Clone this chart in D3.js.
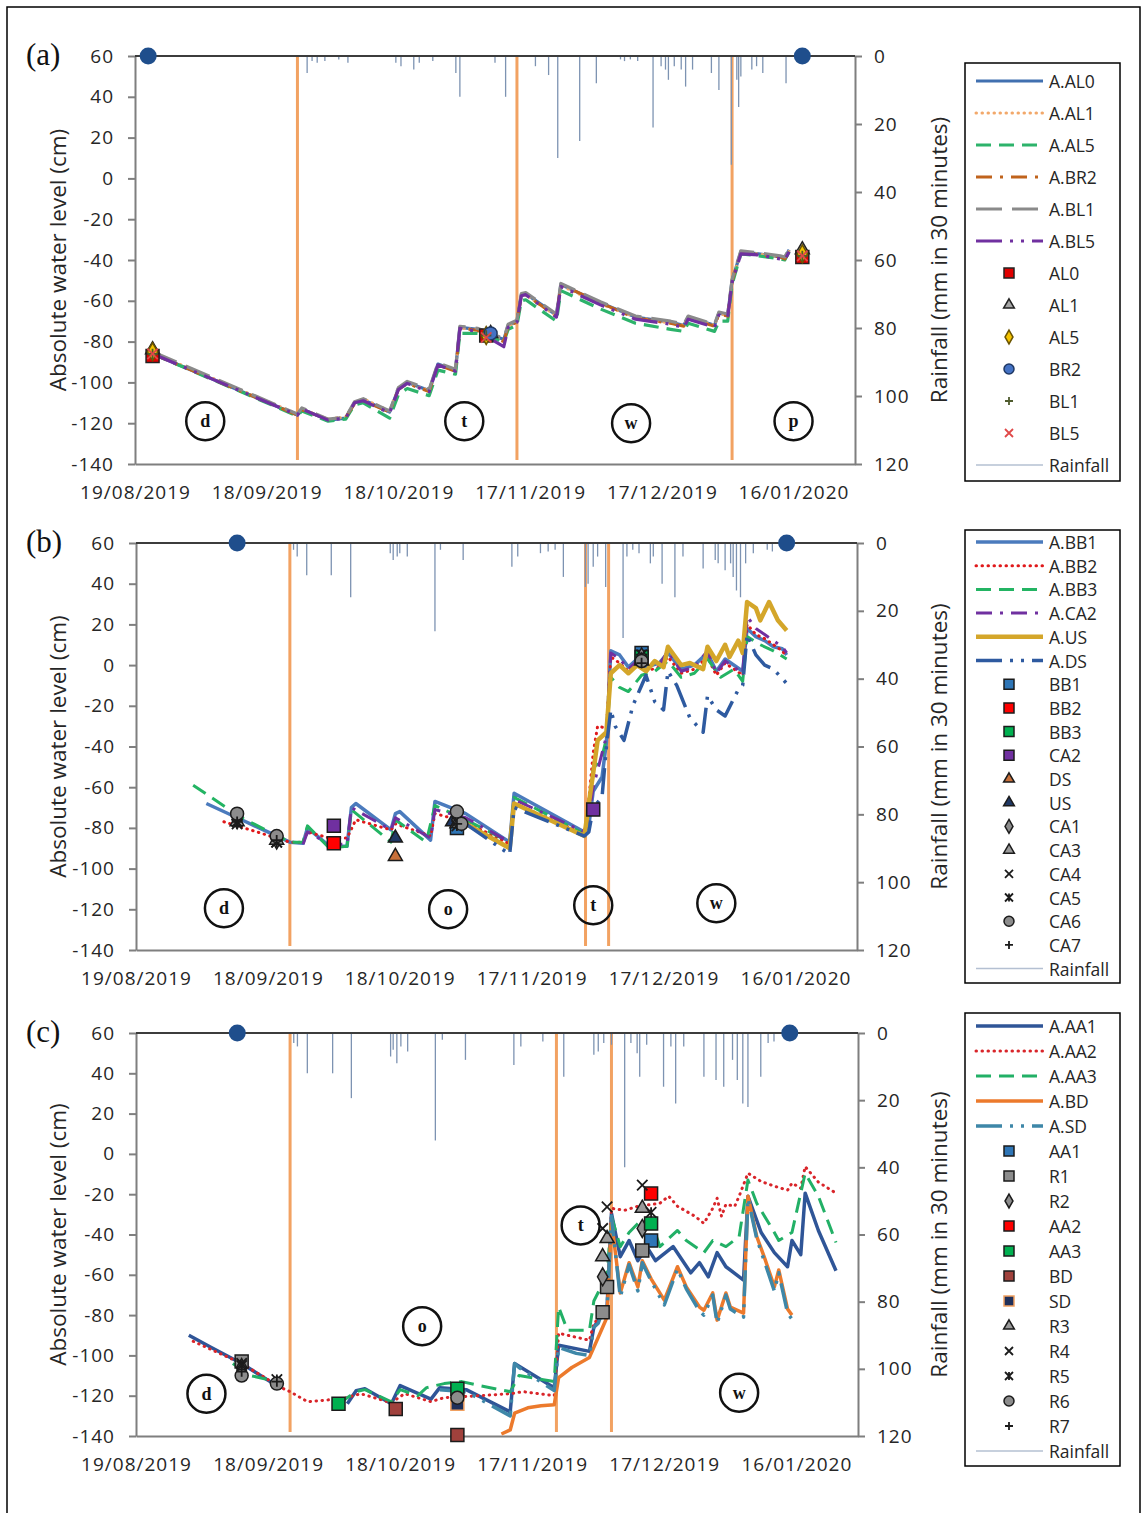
<!DOCTYPE html>
<html>
<head>
<meta charset="utf-8">
<script src="https://cdn.jsdelivr.net/npm/d3@7"></script>
<style>
  body { margin: 0; background: #fff; }
  svg { display: block; }
</style>
</head>
<body>
<svg id="fig" width="1143" height="1513"></svg>
<script>
// ---------- shared axes ----------
const dateRange = ["2019-08-19", "2020-01-30"];
const dateTicks = ["2019-08-19", "2019-09-18", "2019-10-18", "2019-11-17", "2019-12-17", "2020-01-16"];
const levelTicks = [-140, -120, -100, -80, -60, -40, -20, 0, 20, 40, 60];
const rainTicks = [0, 20, 40, 60, 80, 100, 120];

// ---------- panel (a) ----------
const levelAL0 = [["2019-08-23",-86],["2019-09-25",-116],["2019-09-26",-113],["2019-10-02",-118.5],["2019-10-06",-117.5],["2019-10-08",-110],["2019-10-10",-108.5],["2019-10-16",-114.5],["2019-10-18",-103],["2019-10-20",-100],["2019-10-25",-104],["2019-10-27",-91],["2019-10-31",-94],["2019-11-01",-73],["2019-11-05",-74],["2019-11-11",-79],["2019-11-12",-72],["2019-11-14",-70],["2019-11-15",-57],["2019-11-16",-56.5],["2019-11-23",-67],["2019-11-24",-52],["2019-12-03",-61],["2019-12-11",-68],["2019-12-19",-70.5],["2019-12-22",-72],["2019-12-23",-68],["2019-12-29",-72],["2019-12-30",-66],["2020-01-01",-67],["2020-01-02",-50],["2020-01-04",-36],["2020-01-08",-37],["2020-01-13",-38.5],["2020-01-14",-39],["2020-01-15",-35]];
const levelAL1 = [["2019-08-23",-85.5],["2019-09-25",-115.5],["2019-09-26",-113],["2019-10-02",-118],["2019-10-06",-117],["2019-10-08",-110],["2019-10-10",-108],["2019-10-16",-114],["2019-10-18",-103],["2019-10-20",-100.5],["2019-10-25",-104],["2019-10-27",-91.5],["2019-10-31",-94],["2019-11-01",-73.5],["2019-11-05",-74],["2019-11-11",-79.5],["2019-11-12",-72.5],["2019-11-14",-70],["2019-11-15",-57.5],["2019-11-16",-57],["2019-11-23",-67.5],["2019-11-24",-52.5],["2019-12-03",-61.5],["2019-12-11",-68],["2019-12-19",-71],["2019-12-22",-72],["2019-12-23",-68.5],["2019-12-29",-72],["2019-12-30",-66.5],["2020-01-01",-67],["2020-01-02",-50],["2020-01-04",-36.5],["2020-01-08",-37],["2020-01-13",-38.5],["2020-01-14",-39],["2020-01-15",-35.5]];
const levelAL5 = [["2019-08-23",-86],["2019-09-25",-116.5],["2019-09-26",-114],["2019-10-02",-119],["2019-10-06",-118],["2019-10-08",-111],["2019-10-10",-110],["2019-10-16",-117.5],["2019-10-18",-106],["2019-10-20",-103],["2019-10-25",-106.5],["2019-10-27",-94],["2019-10-31",-96],["2019-11-01",-76],["2019-11-05",-76],["2019-11-11",-80],["2019-11-12",-74],["2019-11-14",-72],["2019-11-15",-60],["2019-11-16",-59.5],["2019-11-23",-70],["2019-11-24",-55],["2019-12-03",-64],["2019-12-11",-71],["2019-12-19",-74],["2019-12-22",-75],["2019-12-23",-71],["2019-12-29",-75],["2019-12-30",-70],["2020-01-01",-70],["2020-01-02",-52],["2020-01-04",-37],["2020-01-08",-38],["2020-01-13",-39.5],["2020-01-14",-40],["2020-01-15",-36]];
const levelBR2 = [["2019-08-23",-86],["2019-09-25",-116],["2019-09-26",-113.5],["2019-10-02",-118],["2019-10-06",-117],["2019-10-08",-110.5],["2019-10-10",-109],["2019-10-16",-114.5],["2019-10-18",-103.5],["2019-10-20",-100.5],["2019-10-25",-104.5],["2019-10-27",-91.5],["2019-10-31",-94.5],["2019-11-01",-73.5],["2019-11-05",-74.5],["2019-11-11",-80],["2019-11-12",-72.5],["2019-11-14",-70.5],["2019-11-15",-57.5],["2019-11-16",-57],["2019-11-23",-67.5],["2019-11-24",-52],["2019-12-03",-61],["2019-12-11",-68.5],["2019-12-19",-71],["2019-12-22",-72.5],["2019-12-23",-68.5],["2019-12-29",-72.5],["2019-12-30",-66.5],["2020-01-01",-67.5],["2020-01-02",-50.5],["2020-01-04",-36],["2020-01-08",-37.5],["2020-01-13",-38.5],["2020-01-14",-39.5],["2020-01-15",-35.5]];
const levelBL1 = [["2019-08-23",-85],["2019-09-25",-115.5],["2019-09-26",-112.5],["2019-10-02",-118],["2019-10-06",-117],["2019-10-08",-109.5],["2019-10-10",-108],["2019-10-16",-114],["2019-10-18",-102.5],["2019-10-20",-99.5],["2019-10-25",-103.5],["2019-10-27",-90.5],["2019-10-31",-93.5],["2019-11-01",-72.5],["2019-11-05",-73.5],["2019-11-11",-78.5],["2019-11-12",-71.5],["2019-11-14",-69.5],["2019-11-15",-56.5],["2019-11-16",-56],["2019-11-23",-66.5],["2019-11-24",-51.5],["2019-12-03",-60.5],["2019-12-11",-67.5],["2019-12-19",-70],["2019-12-22",-71.5],["2019-12-23",-67.5],["2019-12-29",-71.5],["2019-12-30",-65.5],["2020-01-01",-66.5],["2020-01-02",-49.5],["2020-01-04",-35.5],["2020-01-08",-36.5],["2020-01-13",-38],["2020-01-14",-38.5],["2020-01-15",-34.5]];
const levelBL5 = [["2019-08-23",-86],["2019-09-25",-116],["2019-09-26",-113],["2019-10-02",-118.5],["2019-10-06",-117.5],["2019-10-08",-110],["2019-10-10",-109],["2019-10-16",-115],["2019-10-18",-103.5],["2019-10-20",-100.5],["2019-10-25",-104.5],["2019-10-27",-91.5],["2019-10-31",-94.5],["2019-11-01",-73.5],["2019-11-05",-75],["2019-11-11",-82.5],["2019-11-12",-73],["2019-11-14",-70.5],["2019-11-15",-57.5],["2019-11-16",-57],["2019-11-23",-68],["2019-11-24",-53],["2019-12-03",-62],["2019-12-11",-69],["2019-12-19",-71.5],["2019-12-22",-73],["2019-12-23",-69],["2019-12-29",-73],["2019-12-30",-67],["2020-01-01",-68],["2020-01-02",-51],["2020-01-04",-37],["2020-01-08",-37.5],["2020-01-13",-39.5],["2020-01-14",-40],["2020-01-15",-36]];

const obsAL0 = [["2019-08-23",-87],["2019-11-07",-77],["2020-01-18",-38.5]];
const obsAL1 = [["2019-08-23",-84],["2019-11-08",-76],["2020-01-18",-35]];
const obsAL5 = [["2019-08-23",-85],["2019-11-07",-77],["2020-01-18",-37]];
const obsBR2 = [["2019-11-08",-76]];
const obsBL1 = [["2019-08-23",-86],["2019-11-07",-77],["2020-01-18",-38]];
const obsBL5 = [["2019-08-23",-86],["2019-11-07",-78],["2020-01-18",-38]];

const rainA = [["2019-09-27 05:00",5],["2019-09-28 08:00",1.5],["2019-09-29 12:00",2],["2019-10-01 06:00",1.5],["2019-10-04 10:00",1],["2019-10-06 12:00",2],["2019-10-17 10:00",2],["2019-10-18 14:00",3],["2019-10-21 12:00",4],["2019-10-22 18:00",2],["2019-10-25 20:00",1.5],["2019-10-31 02:00",5],["2019-11-01 00:00",12],["2019-11-09 00:00",2],["2019-11-11 10:00",12],["2019-11-18 05:00",3],["2019-11-21 05:00",5.6],["2019-11-23 07:00",30],["2019-11-28 07:00",25],["2019-12-02 02:00",8],["2019-12-07 14:00",1],["2019-12-08 12:00",1.5],["2019-12-09 20:00",1],["2019-12-11 12:00",1.5],["2019-12-15 00:00",21],["2019-12-16 20:00",3],["2019-12-17 20:00",4],["2019-12-18 12:00",7],["2019-12-19 20:00",3],["2019-12-21 10:00",4],["2019-12-22 10:00",9],["2019-12-24 00:00",4],["2019-12-28 07:00",5],["2019-12-30 00:00",10],["2020-01-01 20:00",32],["2020-01-03 02:00",7],["2020-01-03 12:00",15],["2020-01-04 00:00",6],["2020-01-06 12:00",4],["2020-01-07 14:00",3],["2020-01-09 00:00",5],["2020-01-14 07:00",8]];
const shiftsA = ["2019-09-25", "2019-11-14", "2020-01-02"];
const visitsA = ["2019-08-22", "2020-01-18"];
const phasesA = [["d","2019-09-04",-119],["t","2019-11-02",-119],["w","2019-12-10",-120],["p","2020-01-16",-119]];

// ---------- panel (b) ----------
const levelBB1 = [["2019-09-04",-68],["2019-09-12",-76],["2019-09-23",-87],["2019-09-26",-87.5],["2019-09-27",-80],["2019-10-02",-89],["2019-10-06",-89],["2019-10-07",-70],["2019-10-08",-68],["2019-10-16",-81],["2019-10-17",-73],["2019-10-18",-72],["2019-10-25",-86],["2019-10-26",-67],["2019-11-02",-73],["2019-11-12",-87],["2019-11-13",-63],["2019-11-29",-82],["2019-11-30",-79],["2019-12-01",-62],["2019-12-03",-55],["2019-12-04",-38],["2019-12-05",7],["2019-12-07",5],["2019-12-09",-1],["2019-12-11",3],["2019-12-13",-1],["2019-12-16",1],["2019-12-18",6],["2019-12-21",-2],["2019-12-24",0],["2019-12-27",6],["2019-12-29",-3],["2019-12-31",3],["2020-01-04",-3],["2020-01-05",18],["2020-01-07",14],["2020-01-09",12],["2020-01-11",9],["2020-01-13",8],["2020-01-14",5]];
const levelBB2 = [["2019-09-08",-77],["2019-09-23",-87],["2019-09-26",-87],["2019-09-27",-82],["2019-10-02",-85],["2019-10-06",-85],["2019-10-08",-76],["2019-10-16",-81],["2019-10-17",-78],["2019-10-25",-84],["2019-10-26",-73],["2019-11-02",-77],["2019-11-12",-88],["2019-11-13",-68],["2019-11-29",-83],["2019-11-30",-66],["2019-12-01",-43],["2019-12-02",-30],["2019-12-04",-31],["2019-12-05",4],["2019-12-07",1],["2019-12-09",-3],["2019-12-11",2],["2019-12-13",-3],["2019-12-16",-1],["2019-12-18",4],["2019-12-21",-4],["2019-12-24",-2],["2019-12-27",4],["2019-12-29",-5],["2019-12-31",1],["2020-01-04",-5],["2020-01-05",20],["2020-01-07",15],["2020-01-09",13],["2020-01-11",10],["2020-01-13",7],["2020-01-14",4]];
const levelBB3 = [["2019-09-01",-59],["2019-09-12",-75],["2019-09-23",-87],["2019-09-26",-87],["2019-09-27",-79],["2019-10-02",-90],["2019-10-06",-89],["2019-10-07",-71],["2019-10-16",-87],["2019-10-17",-76],["2019-10-24",-87],["2019-10-26",-69],["2019-11-02",-76],["2019-11-12",-87],["2019-11-13",-65],["2019-11-29",-83],["2019-11-30",-72],["2019-12-01",-51],["2019-12-03",-45],["2019-12-04",-36],["2019-12-05",-6],["2019-12-07",-11],["2019-12-09",-13],["2019-12-12",-5],["2019-12-15",-3],["2019-12-18",2],["2019-12-21",-6],["2019-12-24",-4],["2019-12-27",3],["2019-12-30",-6],["2020-01-02",-2],["2020-01-04",-8],["2020-01-05",14],["2020-01-08",10],["2020-01-11",7],["2020-01-14",3]];
const levelCA2 = [["2019-09-26",-88],["2019-09-27",-82],["2019-10-02",-88],["2019-10-06",-88],["2019-10-07",-70],["2019-10-16",-81],["2019-10-17",-75],["2019-10-25",-85],["2019-10-26",-71],["2019-11-02",-75],["2019-11-12",-87],["2019-11-13",-66],["2019-11-29",-82],["2019-11-30",-74],["2019-12-01",-60],["2019-12-04",-35],["2019-12-05",6],["2019-12-07",3],["2019-12-09",-2],["2019-12-11",2],["2019-12-13",-2],["2019-12-16",0],["2019-12-18",7],["2019-12-21",-3],["2019-12-24",-1],["2019-12-27",7],["2019-12-29",-4],["2019-12-31",2],["2020-01-04",-4],["2020-01-05",24],["2020-01-07",18],["2020-01-09",15],["2020-01-11",12],["2020-01-13",9],["2020-01-14",6]];
const levelUS = [["2019-10-30",-80],["2019-11-02",-78],["2019-11-12",-90],["2019-11-13",-68],["2019-11-29",-84],["2019-11-30",-68],["2019-12-01",-53],["2019-12-02",-37],["2019-12-04",-33],["2019-12-05",-4],["2019-12-07",0],["2019-12-09",-4],["2019-12-11",0],["2019-12-13",-3],["2019-12-15",2],["2019-12-17",-1],["2019-12-18",9],["2019-12-21",0],["2019-12-23",1],["2019-12-26",-2],["2019-12-27",9],["2019-12-29",2],["2019-12-31",10],["2020-01-01",4],["2020-01-03",12],["2020-01-04",6],["2020-01-05",31],["2020-01-07",28],["2020-01-08",22],["2020-01-10",31],["2020-01-12",22],["2020-01-14",17]];
const levelDS = [["2019-11-02",-78],["2019-11-12",-93],["2019-11-13",-70],["2019-11-29",-84],["2019-11-30",-82],["2019-12-01",-70],["2019-12-03",-65],["2019-12-04",-40],["2019-12-05",-22],["2019-12-06",-30],["2019-12-08",-37],["2019-12-10",-20],["2019-12-12",-10],["2019-12-13",-5],["2019-12-15",-18],["2019-12-17",-22],["2019-12-18",-3],["2019-12-20",-10],["2019-12-23",-26],["2019-12-26",-33],["2019-12-27",-15],["2019-12-29",-22],["2019-12-31",-25],["2020-01-03",-12],["2020-01-04",-10],["2020-01-05",15],["2020-01-07",5],["2020-01-09",0],["2020-01-11",-2],["2020-01-14",-9]];

const obsBB1 = [["2019-10-31",-80],["2019-12-12",6]];
const obsBB2 = [["2019-10-03",-87.5]];
const obsBB3 = [["2019-12-12",4]];
const obsCA2 = [["2019-10-03",-79],["2019-12-01",-71]];
const obsDS = [["2019-10-17",-94]];
const obsUS = [["2019-10-17",-85],["2019-10-30",-77]];
const obsCA1 = [["2019-09-11",-76],["2019-09-20",-86],["2019-10-31",-76],["2019-12-12",4]];
const obsCA3 = [["2019-09-11",-77],["2019-09-20",-86],["2019-10-31",-78],["2019-12-12",2]];
const obsCA4 = [["2019-09-11",-77],["2019-09-20",-87],["2019-10-31",-77],["2019-12-12",5]];
const obsCA5 = [["2019-09-11",-78],["2019-09-20",-87],["2019-10-31",-79],["2019-12-12",3]];
const obsCA6 = [["2019-09-11",-73],["2019-09-20",-84],["2019-10-31",-72],["2019-11-01",-78],["2019-12-12",2]];
const obsCA7 = [["2019-09-11",-77],["2019-09-20",-86],["2019-10-31",-78],["2019-12-12",1]];

const rainB = [["2019-09-23 20:00",2],["2019-09-24 16:00",4],["2019-09-26 20:00",9.5],["2019-10-02 10:00",9.5],["2019-10-06 20:00",16],["2019-10-15 20:00",3],["2019-10-16 12:00",5],["2019-10-17 10:00",4],["2019-10-18 00:00",3],["2019-10-19 17:00",4],["2019-10-26 00:00",26],["2019-10-27 06:00",2],["2019-11-01 10:00",5],["2019-11-12 12:00",7],["2019-11-13 20:00",4],["2019-11-19 00:00",3],["2019-11-20 18:00",2.5],["2019-11-22 08:00",2],["2019-11-24 05:00",10],["2019-11-29 05:00",13],["2019-11-29 20:00",12],["2019-12-01 00:00",7],["2019-12-02 00:00",4],["2019-12-03 20:00",13],["2019-12-07 19:00",28],["2019-12-08 16:00",4],["2019-12-10 00:00",2],["2019-12-11 10:00",3],["2019-12-14 00:00",6],["2019-12-14 16:00",4],["2019-12-16 16:00",12],["2019-12-19 14:00",16],["2019-12-21 10:00",4],["2019-12-26 00:00",7.5],["2019-12-28 18:00",5],["2019-12-29 10:00",6],["2019-12-31 00:00",8],["2020-01-01 06:00",6],["2020-01-01 20:00",10],["2020-01-02 14:00",14],["2020-01-03 12:00",16],["2020-01-04 16:00",6],["2020-01-06 10:00",3],["2020-01-09 14:00",2],["2020-01-10 18:00",2.5]];
const shiftsB = ["2019-09-23", "2019-11-29 06:00", "2019-12-04 12:00"];
const visitsB = ["2019-09-11", "2020-01-14"];
const phasesB = [["d","2019-09-08",-119.5],["o","2019-10-29",-120],["t","2019-12-01",-118],["w","2019-12-29",-117]];

// ---------- panel (c) ----------
const levelAA1 = [["2019-08-31",-90],["2019-09-05",-96],["2019-09-12",-104],["2019-09-21",-116.5],["2019-09-22",null],["2019-10-06",-124],["2019-10-08",-117.5],["2019-10-10",-116.5],["2019-10-16",-124],["2019-10-18",-115],["2019-10-25",-121.7],["2019-10-27",-116],["2019-11-02",-117],["2019-11-12",-128],["2019-11-13",-104],["2019-11-22",-116],["2019-11-23",-95],["2019-11-30",-98],["2019-12-01",-86],["2019-12-04",-76],["2019-12-05",-29.5],["2019-12-07",-51],["2019-12-09",-43],["2019-12-11",-53],["2019-12-13",-46],["2019-12-15",-53],["2019-12-19",-46],["2019-12-23",-59],["2019-12-25",-54],["2019-12-27",-61],["2019-12-29",-49],["2019-12-31",-56],["2020-01-04",-62.6],["2020-01-05",-21],["2020-01-08",-39],["2020-01-11",-49],["2020-01-14",-56],["2020-01-15",-43],["2020-01-17",-50],["2020-01-18",-19.5],["2020-01-21",-38],["2020-01-25",-58]];
const levelAA2 = [["2019-09-01",-93],["2019-09-12",-104],["2019-09-21",-116],["2019-09-23",-118],["2019-09-27",-123],["2019-10-02",-122],["2019-10-05",-121.5],["2019-10-09",-119],["2019-10-16",-123.5],["2019-10-19",-119],["2019-10-25",-123],["2019-10-28",-121],["2019-11-05",-120],["2019-11-12",-119],["2019-11-15",-118],["2019-11-22",-120],["2019-11-23",-89],["2019-11-30",-92.5],["2019-12-01",-84],["2019-12-04",-78],["2019-12-05",-27],["2019-12-08",-28],["2019-12-11",-26],["2019-12-16",-24.5],["2019-12-18",-21],["2019-12-20",-26],["2019-12-24",-31],["2019-12-26",-34.5],["2019-12-28",-27],["2019-12-29",-22],["2019-12-30",-31],["2019-12-31",-25],["2020-01-02",-26],["2020-01-03",-21],["2020-01-05",-9.6],["2020-01-08",-13.7],["2020-01-11",-16],["2020-01-14",-18],["2020-01-15",-14.5],["2020-01-17",-17],["2020-01-18",-6.3],["2020-01-21",-14],["2020-01-25",-19.5]];
const levelAA3 = [["2019-09-10",-104],["2019-09-14",-110],["2019-09-20",-113],["2019-09-21",null],["2019-10-04",-124],["2019-10-08",-118],["2019-10-10",-117],["2019-10-16",-123],["2019-10-18",-117],["2019-10-22",-120],["2019-10-24",-116],["2019-10-28",-114],["2019-11-01",-113],["2019-11-05",-115],["2019-11-12",-118],["2019-11-14",-110],["2019-11-22",-113],["2019-11-23",-76],["2019-11-25",-87.5],["2019-11-30",-87.5],["2019-12-01",-73],["2019-12-04",-60],["2019-12-05",-31],["2019-12-07",-46],["2019-12-09",-39],["2019-12-11",-34.5],["2019-12-14",-33],["2019-12-16",-46],["2019-12-20",-38],["2019-12-22",-43],["2019-12-26",-49],["2019-12-28",-43],["2019-12-31",-46],["2020-01-03",-41],["2020-01-05",-13],["2020-01-07",-24.5],["2020-01-11",-39],["2020-01-12",-43],["2020-01-15",-39],["2020-01-18",-9.6],["2020-01-21",-21],["2020-01-25",-44]];
const levelBD = [["2019-11-10",-139],["2019-11-12",-137],["2019-11-13",-128.7],["2019-11-16",-126],["2019-11-19",-125],["2019-11-22",-124.5],["2019-11-23",-111],["2019-11-26",-106],["2019-11-30",-101],["2019-12-01",-96],["2019-12-03",-86],["2019-12-04",-81],["2019-12-05",-33],["2019-12-07",-69],["2019-12-09",-54],["2019-12-11",-66],["2019-12-12",-53],["2019-12-14",-62],["2019-12-17",-72.6],["2019-12-20",-56],["2019-12-22",-66],["2019-12-25",-76],["2019-12-26",-77.6],["2019-12-28",-69],["2019-12-29",-82.5],["2019-12-31",-69],["2020-01-01",-76],["2020-01-04",-79],["2020-01-05",-21],["2020-01-07",-41],["2020-01-09",-53],["2020-01-11",-66],["2020-01-12",-57.6],["2020-01-14",-77],["2020-01-15",-80]];
const levelSD = [["2019-10-27",-117],["2019-11-02",-118],["2019-11-12",-130],["2019-11-13",-104],["2019-11-14",-106],["2019-11-22",-117.5],["2019-11-23",-96],["2019-11-27",-99],["2019-11-30",-100],["2019-12-01",-86],["2019-12-02",-84],["2019-12-03",-78],["2019-12-04",-77],["2019-12-05",-31],["2019-12-07",-71],["2019-12-09",-55],["2019-12-11",-68],["2019-12-12",-54],["2019-12-14",-63],["2019-12-17",-75],["2019-12-20",-57],["2019-12-22",-67],["2019-12-25",-78],["2019-12-26",-80],["2019-12-28",-70],["2019-12-29",-84],["2019-12-31",-70],["2020-01-01",-77],["2020-01-04",-81],["2020-01-05",-22],["2020-01-07",-42],["2020-01-09",-55],["2020-01-11",-68],["2020-01-12",-59],["2020-01-14",-79],["2020-01-15",-82]];

const obsAA1 = [["2019-12-14",-43]];
const obsR1 = [["2019-09-12",-103],["2019-12-03",-78.6],["2019-12-04",-66],["2019-12-12",-48]];
const obsR2 = [["2019-09-12",-106],["2019-12-03",-61],["2019-12-12",-37]];
const obsAA2 = [["2019-12-14",-19.7]];
const obsAA3 = [["2019-10-04",-124],["2019-10-31",-116.5],["2019-12-14",-34.6]];
const obsBD = [["2019-10-17",-126.6],["2019-10-31",-139.5]];
const obsSD = [["2019-10-31",-124]];
const obsR3 = [["2019-12-03",-51],["2019-12-04",-42],["2019-12-12",-27]];
const obsR4 = [["2019-09-12",-104],["2019-12-03",-37],["2019-12-04",-26.3],["2019-12-12",-15.5]];
const obsR5 = [["2019-09-12",-105],["2019-09-20",-112],["2019-12-14",-29]];
const obsR6 = [["2019-09-12",-110],["2019-09-20",-114],["2019-10-31",-121]];
const obsR7 = [["2019-09-12",-108],["2019-09-20",-113]];

const rainC = [["2019-09-23 20:00",3],["2019-09-24 16:00",4],["2019-09-26 22:00",12],["2019-10-02 16:00",12],["2019-10-06 22:00",19.4],["2019-10-15 20:00",7],["2019-10-16 10:00",5],["2019-10-17 06:00",9],["2019-10-18 04:00",4],["2019-10-19 17:00",5.5],["2019-10-26 00:00",32],["2019-10-27 14:00",2],["2019-11-01 20:00",8],["2019-11-12 20:00",9.5],["2019-11-14 10:00",4],["2019-11-19 10:00",2.5],["2019-11-24 04:00",13],["2019-12-01 00:00",6.5],["2019-12-02 00:00",5.5],["2019-12-03 06:00",3],["2019-12-05 00:00",3.5],["2019-12-08 00:00",40],["2019-12-09 10:00",3],["2019-12-10 20:00",6],["2019-12-11 10:00",13],["2019-12-13 00:00",3.5],["2019-12-16 20:00",16],["2019-12-18 12:00",4],["2019-12-19 14:00",21],["2019-12-21 10:00",4],["2019-12-26 00:00",13],["2019-12-28 18:00",14],["2019-12-30 12:00",16],["2020-01-01 12:00",8],["2020-01-02 14:00",14],["2020-01-03 20:00",21],["2020-01-05 00:00",22],["2020-01-07 22:00",13],["2020-01-09 14:00",3],["2020-01-10 22:00",2.5]];
const shiftsC = ["2019-09-23", "2019-11-22 12:00", "2019-12-05"];
const visitsC = ["2019-09-11", "2020-01-14 12:00"];
const phasesC = [["d","2019-09-04",-119],["o","2019-10-23",-85.5],["t","2019-11-28",-35.5],["w","2020-01-03",-118.5]];

// ---------- drawing ----------
const parseStamp = d3.utcParse("%Y-%m-%d %H:%M");
const parseDay = d3.utcParse("%Y-%m-%d");
const toDate = s => parseStamp(s) || parseDay(s);

const SANS = "'Open Sans','Noto Sans',sans-serif";
const SERIF = "'Liberation Serif','DejaVu Serif',serif";
const DASH = { solid: null, dotted: "0.5 5.5", dashed: "15 8", dashDot: "16 8 3 8", longDash: "26 10", dashDotDot: "26 8 3 8 3 8" };

const svg = d3.select("#fig");
svg.append("rect").attr("x", 7).attr("y", 7).attr("width", 1133).attr("height", 1540)
  .attr("fill", "none").attr("stroke", "#000").attr("stroke-width", 1.5);

const panels = [
  {
    key: "a", label: "(a)", frame: { left: 135, right: 855, top: 56, bottom: 464 },
    legend: { top: 63, bottom: 481, first: 81, step: 32 },
    rain: rainA, shifts: shiftsA, visits: visitsA, phases: phasesA,
    series: [
      { name: "A.AL0", data: levelAL0, color: "#4170b0", width: 3.2, dash: "solid" },
      { name: "A.AL1", data: levelAL1, color: "#f2a86a", width: 3, dash: "dotted" },
      { name: "A.AL5", data: levelAL5, color: "#2db36b", width: 3.2, dash: "dashed" },
      { name: "A.BR2", data: levelBR2, color: "#c0631c", width: 3, dash: "dashDot" },
      { name: "A.BL1", data: levelBL1, color: "#8a8a8a", width: 3.2, dash: "longDash" },
      { name: "A.BL5", data: levelBL5, color: "#7030a0", width: 3.2, dash: "dashDotDot" }
    ],
    markers: [
      { name: "AL0", data: obsAL0, shape: "square", fill: "#e00000", stroke: "#222" },
      { name: "AL1", data: obsAL1, shape: "triangle", fill: "#a6a6a6", stroke: "#222" },
      { name: "AL5", data: obsAL5, shape: "diamond", fill: "#f5c400", stroke: "#6b5400" },
      { name: "BR2", data: obsBR2, shape: "circle", fill: "#4472c4", stroke: "#1f3864" },
      { name: "BL1", data: obsBL1, shape: "plus", fill: "none", stroke: "#4f5b2e" },
      { name: "BL5", data: obsBL5, shape: "x", fill: "none", stroke: "#e04848" }
    ]
  },
  {
    key: "b", label: "(b)", frame: { left: 136, right: 857, top: 543, bottom: 950 },
    legend: { top: 530, bottom: 983, first: 542, step: 23.7 },
    rain: rainB, shifts: shiftsB, visits: visitsB, phases: phasesB,
    series: [
      { name: "A.BB1", data: levelBB1, color: "#4b7bbd", width: 3.5, dash: "solid" },
      { name: "A.BB2", data: levelBB2, color: "#e0191b", width: 3, dash: "dotted" },
      { name: "A.BB3", data: levelBB3, color: "#23b463", width: 3, dash: "dashed" },
      { name: "A.CA2", data: levelCA2, color: "#7030a0", width: 3, dash: "dashDot" },
      { name: "A.US", data: levelUS, color: "#d4a62a", width: 4.5, dash: "solid" },
      { name: "A.DS", data: levelDS, color: "#2e5aa0", width: 3.5, dash: "dashDotDot" }
    ],
    markers: [
      { name: "BB1", data: obsBB1, shape: "square", fill: "#2e75b6", stroke: "#1b1b1b" },
      { name: "BB2", data: obsBB2, shape: "square", fill: "#ff0000", stroke: "#1b1b1b" },
      { name: "BB3", data: obsBB3, shape: "square", fill: "#00b050", stroke: "#1b1b1b" },
      { name: "CA2", data: obsCA2, shape: "square", fill: "#7030a0", stroke: "#1b1b1b" },
      { name: "DS", data: obsDS, shape: "triangle", fill: "#c8703a", stroke: "#1b1b1b" },
      { name: "US", data: obsUS, shape: "triangle", fill: "#1f3864", stroke: "#1b1b1b" },
      { name: "CA1", data: obsCA1, shape: "diamond", fill: "#8c8c8c", stroke: "#1b1b1b" },
      { name: "CA3", data: obsCA3, shape: "triangle", fill: "#9a9a9a", stroke: "#1b1b1b" },
      { name: "CA4", data: obsCA4, shape: "x", fill: "none", stroke: "#1b1b1b" },
      { name: "CA5", data: obsCA5, shape: "star", fill: "none", stroke: "#1b1b1b" },
      { name: "CA6", data: obsCA6, shape: "circle", fill: "#8c8c8c", stroke: "#1b1b1b" },
      { name: "CA7", data: obsCA7, shape: "plus", fill: "none", stroke: "#1b1b1b" }
    ]
  },
  {
    key: "c", label: "(c)", frame: { left: 136, right: 858, top: 1033, bottom: 1436 },
    legend: { top: 1013, bottom: 1466, first: 1026, step: 25 },
    rain: rainC, shifts: shiftsC, visits: visitsC, phases: phasesC,
    series: [
      { name: "A.AA1", data: levelAA1, color: "#2f5597", width: 3.5, dash: "solid" },
      { name: "A.AA2", data: levelAA2, color: "#d9252a", width: 3, dash: "dotted" },
      { name: "A.AA3", data: levelAA3, color: "#22b066", width: 3, dash: "dashed" },
      { name: "A.BD", data: levelBD, color: "#ec7a2c", width: 3.5, dash: "solid" },
      { name: "A.SD", data: levelSD, color: "#3e87a8", width: 3.5, dash: "dashDotDot" }
    ],
    markers: [
      { name: "AA1", data: obsAA1, shape: "square", fill: "#2e75b6", stroke: "#1b1b1b" },
      { name: "R1", data: obsR1, shape: "square", fill: "#8c8c8c", stroke: "#1b1b1b" },
      { name: "R2", data: obsR2, shape: "diamond", fill: "#8c8c8c", stroke: "#1b1b1b" },
      { name: "AA2", data: obsAA2, shape: "square", fill: "#ff0000", stroke: "#1b1b1b" },
      { name: "AA3", data: obsAA3, shape: "square", fill: "#00b050", stroke: "#1b1b1b" },
      { name: "BD", data: obsBD, shape: "square", fill: "#a0413c", stroke: "#1b1b1b" },
      { name: "SD", data: obsSD, shape: "square", fill: "#1f2f5a", stroke: "#f0a060" },
      { name: "R3", data: obsR3, shape: "triangle", fill: "#9a9a9a", stroke: "#1b1b1b" },
      { name: "R4", data: obsR4, shape: "x", fill: "none", stroke: "#1b1b1b" },
      { name: "R5", data: obsR5, shape: "star", fill: "none", stroke: "#1b1b1b" },
      { name: "R6", data: obsR6, shape: "circle", fill: "#8c8c8c", stroke: "#1b1b1b" },
      { name: "R7", data: obsR7, shape: "plus", fill: "none", stroke: "#1b1b1b" }
    ]
  }
];

function markerPath(shape, s) {
  const h = s / 2, k = h * 0.8;
  switch (shape) {
    case "square": return d3.symbol(d3.symbolSquare, s * s)();
    case "circle": return d3.symbol(d3.symbolCircle, Math.PI * h * h)();
    case "triangle": return d3.symbol(d3.symbolTriangle, s * s * 0.5)();
    case "diamond": return d3.symbol(d3.symbolDiamond, s * s * 0.55)();
    case "x": return `M${-k},${-k}L${k},${k}M${-k},${k}L${k},${-k}`;
    case "plus": return `M${-k},0L${k},0M0,${-k}L0,${k}`;
    // asterisk: a cross of diagonals with a vertical stroke through the middle
    case "star": return `M${-k},${-k}L${k},${k}M${-k},${k}L${k},${-k}M0,${-k}L0,${k}`;
  }
}
const strokeOnly = shape => shape === "x" || shape === "plus" || shape === "star";

function styleMarker(sel, m) {
  sel.attr("fill", strokeOnly(m.shape) ? "none" : m.fill)
    .attr("stroke", m.stroke)
    .attr("stroke-width", strokeOnly(m.shape) ? 1.8 : 1.5);
}

function styleAxis(sel, color) {
  sel.attr("font-family", SANS).attr("font-size", 19);
  sel.select(".domain").attr("stroke", color).attr("stroke-width", 2);
  sel.selectAll(".tick line").attr("stroke", color).attr("stroke-width", 2);
  sel.selectAll(".tick text").attr("fill", "#262626").style("letter-spacing", "1px");
}

// plain hyphen-minus for negative tick values
const plainNumber = v => String(v);

function drawPanel(p) {
  const { left, right, top, bottom } = p.frame;
  const x = d3.scaleUtc().domain(dateRange.map(toDate)).range([left, right]);
  const y = d3.scaleLinear().domain([levelTicks[0], levelTicks[levelTicks.length - 1]]).range([bottom, top]);
  const yRain = d3.scaleLinear().domain([rainTicks[0], rainTicks[rainTicks.length - 1]]).range([top, bottom]);
  const g = svg.append("g").attr("class", "panel-" + p.key);

  const clipId = "plot-clip-" + p.key;
  svg.append("clipPath").attr("id", clipId).append("rect")
    .attr("x", left).attr("y", top).attr("width", right - left).attr("height", bottom - top);

  // phase boundaries
  g.append("g").selectAll("line").data(p.shifts).join("line")
    .attr("x1", d => x(toDate(d))).attr("x2", d => x(toDate(d)))
    .attr("y1", top).attr("y2", bottom - 4)
    .attr("stroke", "#f2a262").attr("stroke-width", 3);

  // rainfall hanging from the top axis
  g.append("g").selectAll("line").data(p.rain).join("line")
    .attr("x1", d => x(toDate(d[0]))).attr("x2", d => x(toDate(d[0])))
    .attr("y1", yRain(0)).attr("y2", d => yRain(d[1]))
    .attr("stroke", "#7d93b2").attr("stroke-width", 1.3);

  // axes
  const axL = g.append("g").attr("transform", `translate(${left},0)`)
    .call(d3.axisLeft(y).tickValues(levelTicks).tickFormat(plainNumber)
      .tickSize(7).tickSizeOuter(0).tickPadding(14));
  styleAxis(axL, "#7f7f7f");
  const axR = g.append("g").attr("transform", `translate(${right},0)`)
    .call(d3.axisRight(yRain).tickValues(rainTicks).tickFormat(plainNumber)
      .tickSize(7).tickSizeOuter(0).tickPadding(12));
  styleAxis(axR, "#7f7f7f");
  const axB = g.append("g").attr("transform", `translate(0,${bottom})`)
    .call(d3.axisBottom(x).tickValues(dateTicks.map(toDate)).tickFormat(d3.utcFormat("%d/%m/%Y"))
      .tickSize(0).tickSizeOuter(0).tickPadding(22));
  styleAxis(axB, "#7f7f7f");
  g.append("line").attr("x1", left).attr("x2", right).attr("y1", top).attr("y2", top)
    .attr("stroke", "#3c3c3c").attr("stroke-width", 2.2);

  // axis titles
  g.append("text").attr("transform", `translate(57,${(top + bottom) / 2}) rotate(-90)`)
    .attr("text-anchor", "middle").attr("dominant-baseline", "central")
    .attr("font-family", SANS).attr("font-size", 22.5).attr("fill", "#262626")
    .text("Absolute water level (cm)");
  g.append("text").attr("transform", `translate(938,${(top + bottom) / 2}) rotate(-90)`)
    .attr("text-anchor", "middle").attr("dominant-baseline", "central")
    .attr("font-family", SANS).attr("font-size", 22.5).attr("fill", "#262626")
    .text("Rainfall (mm in 30 minutes)");

  // panel label
  g.append("text").attr("x", 26).attr("y", top + 9)
    .attr("font-family", SERIF).attr("font-size", 31).attr("fill", "#111").text(p.label);

  // water level series
  const line = d3.line().defined(d => d[1] !== null)
    .x(d => x(toDate(d[0]))).y(d => y(d[1]));
  const lines = g.append("g").attr("clip-path", `url(#${clipId})`);
  p.series.forEach(s => {
    lines.append("path").attr("d", line(s.data)).attr("fill", "none")
      .attr("stroke", s.color).attr("stroke-width", s.width)
      .attr("stroke-dasharray", DASH[s.dash])
      .attr("stroke-linecap", s.dash === "dotted" ? "round" : "butt")
      .attr("stroke-linejoin", "round");
  });

  // manual observations
  p.markers.forEach(m => {
    g.append("g").selectAll("path").data(m.data).join("path")
      .attr("transform", d => `translate(${x(toDate(d[0]))},${y(d[1])})`)
      .attr("d", markerPath(m.shape, 13))
      .call(styleMarker, m);
  });

  // field visit dots on the top axis
  g.append("g").selectAll("circle").data(p.visits).join("circle")
    .attr("cx", d => x(toDate(d))).attr("cy", y(levelTicks[levelTicks.length - 1]))
    .attr("r", 8.5).attr("fill", "#1f4e8c");

  // circled phase letters
  const ph = g.append("g").selectAll("g").data(p.phases).join("g")
    .attr("transform", d => `translate(${x(toDate(d[1]))},${y(d[2])})`);
  ph.append("circle").attr("r", 19).attr("fill", "none").attr("stroke", "#111").attr("stroke-width", 2.5);
  ph.append("text").attr("text-anchor", "middle").attr("dominant-baseline", "central")
    .attr("font-family", SERIF).attr("font-weight", "bold").attr("font-size", 18).attr("fill", "#111")
    .text(d => d[0]);

  drawLegend(p);
}

function drawLegend(p) {
  const L = p.legend;
  const lg = svg.append("g").attr("class", "legend-" + p.key);
  lg.append("rect").attr("x", 965).attr("y", L.top).attr("width", 155).attr("height", L.bottom - L.top)
    .attr("fill", "#fff").attr("stroke", "#000").attr("stroke-width", 1.5);
  const entries = [
    ...p.series.map(s => ({ kind: "line", ...s })),
    ...p.markers.map(m => ({ kind: "marker", ...m })),
    { kind: "rain", name: "Rainfall" }
  ];
  entries.forEach((e, i) => {
    const cy = L.first + i * L.step;
    if (e.kind === "line") {
      lg.append("line").attr("x1", 976).attr("x2", 1043).attr("y1", cy).attr("y2", cy)
        .attr("stroke", e.color).attr("stroke-width", e.width)
        .attr("stroke-dasharray", DASH[e.dash])
        .attr("stroke-linecap", e.dash === "dotted" ? "round" : "butt");
    } else if (e.kind === "marker") {
      lg.append("path").attr("transform", `translate(1009,${cy})`)
        .attr("d", markerPath(e.shape, 10)).call(styleMarker, e);
    } else {
      lg.append("line").attr("x1", 976).attr("x2", 1043).attr("y1", cy).attr("y2", cy)
        .attr("stroke", "#b4c0d2").attr("stroke-width", 1.5);
    }
    lg.append("text").attr("x", 1049).attr("y", cy).attr("dominant-baseline", "central")
      .attr("font-family", SANS).attr("font-size", 17.5).attr("fill", "#262626").text(e.name);
  });
}

panels.forEach(drawPanel);
</script>
</body>
</html>
